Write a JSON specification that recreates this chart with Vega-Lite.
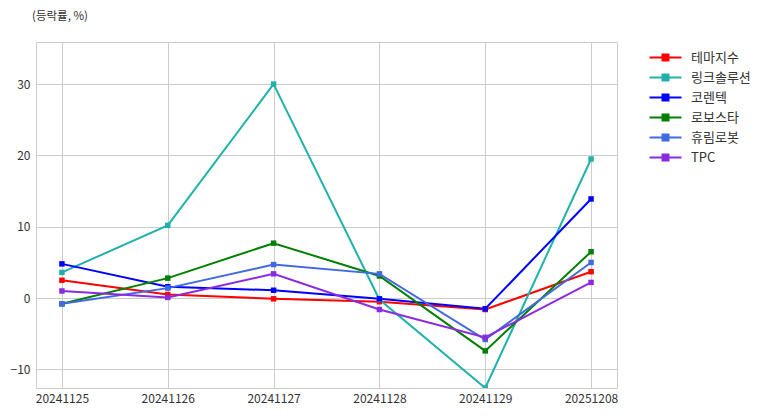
{
  "$schema": "https://vega.github.io/schema/vega-lite/v6.json",
  "autosize": "none",
  "width": 581,
  "height": 346,
  "padding": {"left": 36, "top": 42, "right": 156, "bottom": 28},
  "background": "white",
  "title": {"text": "(등락률, %)", "anchor": "start", "frame": "group", "dx": -4, "offset": 20, "fontSize": 11.5, "fontWeight": "normal", "color": "#333", "font": "Noto Sans CJK KR"},
  "config": {
    "view": {"stroke": "#cccccc", "strokeWidth": 1},
    "font": "Noto Sans CJK KR"
  },
  "data": {"values": [
    {"date": "20241125", "name": "테마지수", "v": 2.5},
    {"date": "20241126", "name": "테마지수", "v": 0.5},
    {"date": "20241127", "name": "테마지수", "v": -0.1},
    {"date": "20241128", "name": "테마지수", "v": -0.5},
    {"date": "20241129", "name": "테마지수", "v": -1.6},
    {"date": "20251208", "name": "테마지수", "v": 3.7},
    {"date": "20241125", "name": "링크솔루션", "v": 3.6},
    {"date": "20241126", "name": "링크솔루션", "v": 10.2},
    {"date": "20241127", "name": "링크솔루션", "v": 30.0},
    {"date": "20241128", "name": "링크솔루션", "v": -0.2},
    {"date": "20241129", "name": "링크솔루션", "v": -12.6},
    {"date": "20251208", "name": "링크솔루션", "v": 19.5},
    {"date": "20241125", "name": "코렌텍", "v": 4.8},
    {"date": "20241126", "name": "코렌텍", "v": 1.6},
    {"date": "20241127", "name": "코렌텍", "v": 1.1},
    {"date": "20241128", "name": "코렌텍", "v": -0.1},
    {"date": "20241129", "name": "코렌텍", "v": -1.5},
    {"date": "20251208", "name": "코렌텍", "v": 13.9},
    {"date": "20241125", "name": "로보스타", "v": -0.8},
    {"date": "20241126", "name": "로보스타", "v": 2.8},
    {"date": "20241127", "name": "로보스타", "v": 7.7},
    {"date": "20241128", "name": "로보스타", "v": 3.1},
    {"date": "20241129", "name": "로보스타", "v": -7.4},
    {"date": "20251208", "name": "로보스타", "v": 6.5},
    {"date": "20241125", "name": "휴림로봇", "v": -0.8},
    {"date": "20241126", "name": "휴림로봇", "v": 1.4},
    {"date": "20241127", "name": "휴림로봇", "v": 4.7},
    {"date": "20241128", "name": "휴림로봇", "v": 3.4},
    {"date": "20241129", "name": "휴림로봇", "v": -5.8},
    {"date": "20251208", "name": "휴림로봇", "v": 5.0},
    {"date": "20241125", "name": "TPC", "v": 1.0},
    {"date": "20241126", "name": "TPC", "v": 0.1},
    {"date": "20241127", "name": "TPC", "v": 3.4},
    {"date": "20241128", "name": "TPC", "v": -1.6},
    {"date": "20241129", "name": "TPC", "v": -5.5},
    {"date": "20251208", "name": "TPC", "v": 2.2}
  ]},
  "encoding": {
    "x": {"field": "date", "type": "ordinal", "scale": {"type": "point", "padding": 0.245},
      "axis": {"title": null, "labelAngle": 0, "ticks": false, "domain": false, "grid": true, "gridColor": "#cccccc", "labelColor": "#333", "labelFontSize": 12, "labelPadding": 5, "labelFont": "Noto Sans CJK KR"}},
    "y": {"field": "v", "type": "quantitative", "scale": {"domain": [-12.6, 35.9], "nice": false, "zero": false},
      "axis": {"title": null, "values": [-10, 0, 10, 20, 30], "ticks": false, "domain": false, "grid": true, "gridColor": "#cccccc", "labelColor": "#333", "labelFontSize": 12, "labelPadding": 6, "labelFont": "Noto Sans CJK KR"}},
    "color": {"field": "name", "type": "nominal",
      "scale": {"domain": ["테마지수", "링크솔루션", "코렌텍", "로보스타", "휴림로봇", "TPC"], "range": ["#ff0000", "#20b2aa", "#0000ff", "#008000", "#4169e1", "#8a2be2"]},
      "sort": ["테마지수", "링크솔루션", "코렌텍", "로보스타", "휴림로봇", "TPC"],
      "legend": {"title": null, "orient": "none", "legendX": 623, "legendY": 9, "symbolType": "M-3.2,0H3.2M-0.6,-0.6H0.6V0.6H-0.6Z", "symbolSize": 100, "symbolStrokeWidth": 2, "symbolFillColor": null, "labelFontSize": 13, "labelColor": "#333", "labelOffset": 19, "rowPadding": 5, "labelFont": "Noto Sans CJK KR"}}
  },
  "layer": [
    {"mark": {"type": "line", "strokeWidth": 2, "clip": true}},
    {"mark": {"type": "point", "shape": "square", "filled": true, "size": 30, "opacity": 1, "clip": true}}
  ]
}
